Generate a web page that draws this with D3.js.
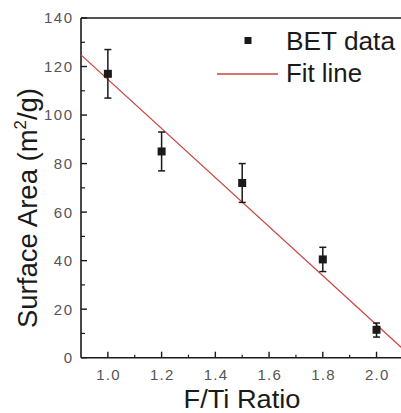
<!DOCTYPE html>
<html><head><meta charset="utf-8">
<script src="https://cdn.jsdelivr.net/npm/d3@7"></script>
<style>body{margin:0;background:#fff;}svg{display:block;}</style>
</head><body>
<svg id="c" width="401" height="413"></svg>
<script>
// Data
const ratios = [1.0, 1.2, 1.5, 1.8, 2.0];
const surfaceArea = [117, 85, 72, 40.5, 11.5];
const errUp = [127, 93, 80, 45.5, 14.3];
const errDown = [107, 77, 64, 35.5, 8.5];
const fitX = [0.9, 2.1];
const fitY = [124.8, 3.5];
const xTicks = [1.0, 1.2, 1.4, 1.6, 1.8, 2.0];
const xMinor = [1.1, 1.3, 1.5, 1.7, 1.9];
const yTicks = [0, 20, 40, 60, 80, 100, 120, 140];
const yMinor = [10, 30, 50, 70, 90, 110, 130];
const legendLabels = ["BET data", "Fit line"];

const svg = d3.select("#c");
const pL = 81, pT = 18, pB = 357.7, pR = 403.4;
const x = d3.scaleLinear().domain([0.9, 2.1]).range([pL, pR]);
const y = d3.scaleLinear().domain([0, 140]).range([pB, pT]);
const ink = "#1a1a1a";
const red = "#c8453f";

// frame lines (left, bottom, top)
svg.append("line").attr("x1", pL).attr("x2", pL).attr("y1", pT).attr("y2", pB)
  .attr("stroke", ink).attr("stroke-width", 1.6);
svg.append("line").attr("x1", pL).attr("x2", 401).attr("y1", pB).attr("y2", pB)
  .attr("stroke", ink).attr("stroke-width", 1.6);
svg.append("line").attr("x1", pL).attr("x2", 401).attr("y1", pT).attr("y2", pT)
  .attr("stroke", ink).attr("stroke-width", 1.4);

// ticks (inward)
svg.selectAll(".xt").data(xTicks).enter().append("line")
  .attr("x1", d => x(d)).attr("x2", d => x(d)).attr("y1", pB).attr("y2", pB - 6)
  .attr("stroke", ink).attr("stroke-width", 1.4);
svg.selectAll(".xm").data(xMinor).enter().append("line")
  .attr("x1", d => x(d)).attr("x2", d => x(d)).attr("y1", pB).attr("y2", pB - 3)
  .attr("stroke", ink).attr("stroke-width", 1.2);
svg.selectAll(".yt").data(yTicks).enter().append("line")
  .attr("x1", pL).attr("x2", pL + 6).attr("y1", d => y(d)).attr("y2", d => y(d))
  .attr("stroke", ink).attr("stroke-width", 1.4);
svg.selectAll(".ym").data(yMinor).enter().append("line")
  .attr("x1", pL).attr("x2", pL + 4).attr("y1", d => y(d)).attr("y2", d => y(d))
  .attr("stroke", ink).attr("stroke-width", 1.2);

// tick labels
const tickFont = "'Liberation Sans', Arial, sans-serif";
svg.selectAll(".xl").data(xTicks).enter().append("text")
  .attr("x", d => x(d) + 0.7).attr("y", 380)
  .attr("text-anchor", "middle").attr("font-family", tickFont).attr("font-size", 15)
  .attr("letter-spacing", 1.2).attr("fill", "#555")
  .text(d => d.toFixed(1));
svg.selectAll(".yl").data(yTicks).enter().append("text")
  .attr("x", 73.5).attr("y", d => y(d)).attr("dy", "0.36em")
  .attr("text-anchor", "end").attr("font-family", tickFont).attr("font-size", 15)
  .attr("letter-spacing", 1.5).attr("fill", "#555")
  .text(d => d);

// fit line
svg.append("line")
  .attr("x1", x(fitX[0])).attr("y1", y(fitY[0]))
  .attr("x2", x(fitX[1])).attr("y2", y(fitY[1]))
  .attr("stroke", red).attr("stroke-width", 1.3);

// error bars
const pts = ratios.map((r, i) => ({r, v: surfaceArea[i], hi: errUp[i], lo: errDown[i]}));
const eb = svg.selectAll(".eb").data(pts).enter().append("g");
eb.append("line").attr("x1", d => x(d.r)).attr("x2", d => x(d.r))
  .attr("y1", d => y(d.hi)).attr("y2", d => y(d.lo)).attr("stroke", ink).attr("stroke-width", 1.5);
eb.append("line").attr("x1", d => x(d.r) - 3.5).attr("x2", d => x(d.r) + 3.5)
  .attr("y1", d => y(d.hi)).attr("y2", d => y(d.hi)).attr("stroke", ink).attr("stroke-width", 1.5);
eb.append("line").attr("x1", d => x(d.r) - 3.5).attr("x2", d => x(d.r) + 3.5)
  .attr("y1", d => y(d.lo)).attr("y2", d => y(d.lo)).attr("stroke", ink).attr("stroke-width", 1.5);
eb.append("rect").attr("x", d => x(d.r) - 4).attr("y", d => y(d.v) - 4)
  .attr("width", 8).attr("height", 8).attr("fill", ink);

// legend
const lf = "'Liberation Sans', Arial, sans-serif";
svg.append("rect").attr("x", 244.5).attr("y", 37).attr("width", 7).attr("height", 7).attr("fill", ink);
svg.append("text").attr("x", 286).attr("y", 50).attr("font-family", lf).attr("font-size", 26)
  .attr("textLength", 109).attr("lengthAdjust", "spacingAndGlyphs").attr("fill", "#1a1a1a")
  .text(legendLabels[0]);
svg.append("line").attr("x1", 217).attr("x2", 278).attr("y1", 74).attr("y2", 74)
  .attr("stroke", red).attr("stroke-width", 1.3);
svg.append("text").attr("x", 286).attr("y", 81.7).attr("font-family", lf).attr("font-size", 26)
  .attr("textLength", 76).attr("lengthAdjust", "spacingAndGlyphs").attr("fill", "#1a1a1a")
  .text(legendLabels[1]);

// axis titles
svg.append("text").attr("x", 183.5).attr("y", 407.5).attr("font-family", lf).attr("font-size", 25)
  .attr("textLength", 117).attr("lengthAdjust", "spacingAndGlyphs").attr("fill", "#1a1a1a")
  .text("F/Ti Ratio");
const yt = svg.append("text").attr("transform", "translate(37,328) rotate(-90)")
  .attr("font-family", lf).attr("font-size", 28)
  .attr("textLength", 240).attr("lengthAdjust", "spacingAndGlyphs").attr("fill", "#1a1a1a");
yt.append("tspan").text("Surface Area (m");
yt.append("tspan").attr("font-size", 17).attr("dy", -11).text("2");
yt.append("tspan").attr("dy", 11).text("/g)");
</script>
</body></html>
